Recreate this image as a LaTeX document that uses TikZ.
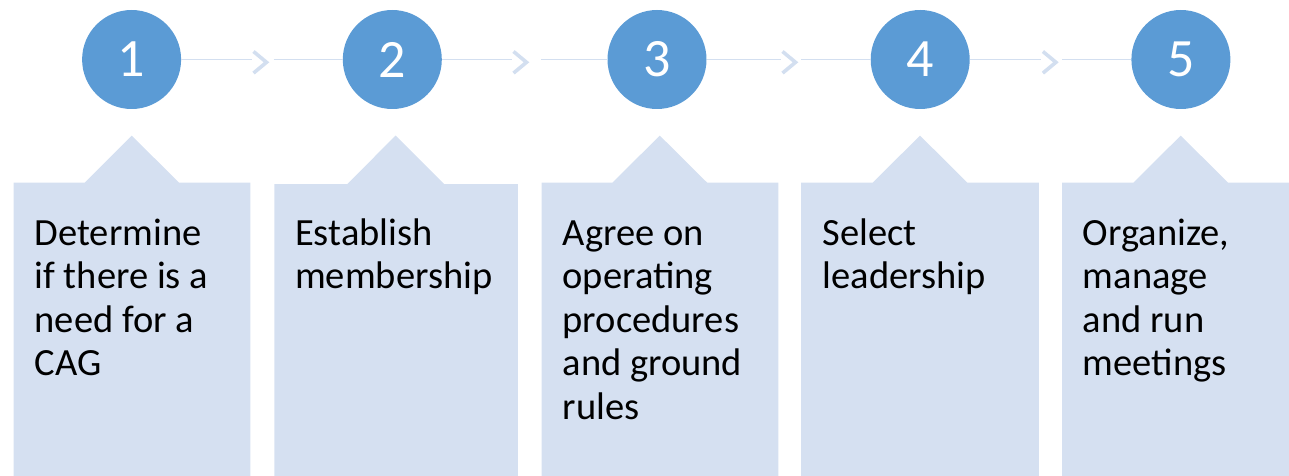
\documentclass[tikz,border=0pt]{standalone}
\usepackage{fontspec}
\setmainfont{Carlito}
\definecolor{circblue}{HTML}{5B9BD5}
\definecolor{boxblue}{HTML}{D5E0F1}
\definecolor{linkblue}{HTML}{D3DFF0}
\begin{document}
\begin{tikzpicture}[x=1pt,y=-1pt,
  stepcircle/.style={circle, fill=circblue, minimum size=99pt, inner sep=0pt, text=white, font=\fontsize{54}{60}\selectfont},
  panel/.style={fill=boxblue},
  paneltext/.style={anchor=base west, align=left, inner sep=0pt, font=\fontsize{38.5}{43.5}\selectfont},
  link/.style={draw=linkblue, line width=1.8pt},
  chev/.style={draw=linkblue, line width=3.6pt, miter limit=10}]
\useasboundingbox (0,0) rectangle (1289,476);
\clip (0,0) rectangle (1289,476);

% panels
\fill[panel] (13.6,182.5) -- (84.8,182.5) -- (131.8,135.6) -- (178.8,182.5) -- (250.3,182.5) -- (250.3,480) -- (13.6,480) -- cycle;
\fill[panel] (274.3,184) -- (347.3,184) -- (395.6,135.6) -- (444,184) -- (517.8,184) -- (517.8,480) -- (274.3,480) -- cycle;
\fill[panel] (541.7,182.5) -- (612.5,182.5) -- (659.8,135.6) -- (707,182.5) -- (778.3,182.5) -- (778.3,480) -- (541.7,480) -- cycle;
\fill[panel] (801,182.5) -- (872.8,182.5) -- (920,135.6) -- (967.2,182.5) -- (1038.8,182.5) -- (1038.8,480) -- (801,480) -- cycle;
\fill[panel] (1062,182.5) -- (1133.5,182.5) -- (1180.7,135.6) -- (1227.9,182.5) -- (1300,182.5) -- (1300,480) -- (1062,480) -- cycle;

% circles
\node[stepcircle] (c1) at (131.6,59.5) {1};
\node[stepcircle] (c2) at (392.3,59.5) {2};
\node[stepcircle] (c3) at (657,59.5) {3};
\node[stepcircle] (c4) at (920.2,59.5) {4};
\node[stepcircle] (c5) at (1180.9,59.5) {5};

% chevron and gap coordinates
\coordinate (a1) at (252,59.5); \coordinate (b1) at (273.6,59.5);
\coordinate (a2) at (512,59.5); \coordinate (b2) at (541,59.5);
\coordinate (a3) at (781,59.5); \coordinate (b3) at (801,59.5);
\coordinate (a4) at (1041.4,59.5); \coordinate (b4) at (1062,59.5);

\draw[link] (c1.east) -- (a1);
\draw[link] (b1) -- (c2.west);
\draw[link] (c2.east) -- (a2);
\draw[link] (b2) -- (c3.west);
\draw[link] (c3.east) -- (a3);
\draw[link] (b3) -- (c4.west);
\draw[link] (c4.east) -- (a4);
\draw[link] (b4) -- (c5.west);

\draw[chev] ([shift={(1.5,-8)}]a1) -- ++(13,10.8) -- ++(-13,10.8);
\draw[chev] ([shift={(1.5,-8)}]a2) -- ++(13,10.8) -- ++(-13,10.8);
\draw[chev] ([shift={(1.5,-8)}]a3) -- ++(13,10.8) -- ++(-13,10.8);
\draw[chev] ([shift={(1.5,-8)}]a4) -- ++(13,10.8) -- ++(-13,10.8);

% texts (base anchor = baseline of last line)
\node[paneltext] (t1) at (34.5,375.5) {Determine\\if there is a\\need for a\\CAG};
\node[paneltext] (t2) at (295,288.5) {Establish\\membership};
\node[paneltext] (t3) at (562.5,419) {Agree on\\operating\\procedures\\and ground\\rules};
\node[paneltext] (t4) at (822.5,288.5) {Select\\leadership};
\node[paneltext] (t5) at (1082.7,375.5) {Organize,\\manage\\and run\\meetings};
\end{tikzpicture}
\end{document}
